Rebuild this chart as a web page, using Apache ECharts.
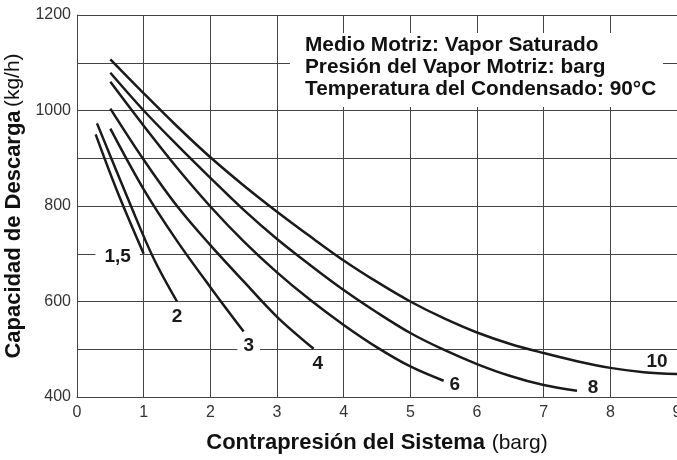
<!DOCTYPE html>
<html>
<head>
<meta charset="utf-8">
<script src="https://cdn.jsdelivr.net/npm/echarts@6/dist/echarts.min.js"></script>
<style>
html, body { margin: 0; padding: 0; background: #fff; }
#chart { width: 677px; height: 460px; }
</style>
</head>
<body>
<div id="chart"></div>
<script>
// curves: [contrapresion barg, capacidad kg/h]
var curve15 = [[0.28, 950], [0.6, 832], [1.0, 700]];
var curve2 = [[0.3, 973], [0.8, 803], [1.15, 690], [1.5, 600]];
var curve3 = [[0.5, 962], [1.0, 835], [1.5, 727], [2.0, 630], [2.5, 537]];
var curve4 = [[0.5, 1004], [1.0, 897], [1.5, 800], [2.0, 718], [2.5, 642], [3.0, 568], [3.55, 501]];
var curve6 = [[0.5, 1060], [1.0, 968], [1.5, 880], [2.0, 799], [2.5, 726], [3.0, 661], [3.5, 603], [4.0, 551], [4.5, 504], [5.0, 464], [5.5, 434]];
var curve8 = [[0.5, 1079], [1.0, 1000], [1.5, 928], [2.0, 859], [2.5, 792], [3.0, 731], [3.5, 676], [4.0, 624], [4.5, 577], [5.0, 534], [5.5, 499], [6.0, 469], [6.5, 444], [7.0, 425], [7.5, 413]];
var curve10 = [[0.5, 1107], [1.0, 1036], [1.5, 967], [2.0, 902], [2.5, 843], [3.0, 788], [3.5, 736], [4.0, 686], [4.5, 641], [5.0, 600], [5.5, 565], [6.0, 535], [6.5, 511], [7.0, 492], [7.5, 475], [8.0, 461], [8.5, 452], [9.0, 448]];

var curveNames = ['1,5', '2', '3', '4', '6', '8', '10'];
var curveData = [curve15, curve2, curve3, curve4, curve6, curve8, curve10];
// where each curve's label sits relative to its last point (px)
var labelOffsets = [[-26, 3], [0, 15], [5, 14], [4, 15], [11, 4], [16, -3], [-20, -12]];
var labelPads = [[0, 9], [0, 0], [0, 6], [0, 0], [0, 0], [0, 0], [0, 0]];

var boxText = ['Medio Motriz: Vapor Saturado', 'Presión del Vapor Motriz: barg', 'Temperatura del Condensado: 90°C'];

var FONT = '"Liberation Sans", Arial, sans-serif';

var myChart = echarts.init(document.getElementById('chart'));

var series = curveData.map(function (pts, i) {
  var last = pts[pts.length - 1];
  return {
    name: curveNames[i],
    type: 'line',
    data: pts,
    smooth: 0.35,
    showSymbol: false,
    lineStyle: { color: '#1a1a1a', width: 2.5 },
    z: 5,
    markPoint: {
      symbol: 'circle',
      symbolSize: 0,
      silent: true,
      label: {
        show: true,
        formatter: curveNames[i],
        offset: labelOffsets[i],
        fontFamily: FONT,
        fontWeight: 'bold',
        fontSize: 19,
        color: '#1a1a1a',
        backgroundColor: labelPads[i][1] ? '#fff' : 'transparent',
        padding: labelPads[i]
      },
      data: [{ coord: last }]
    }
  };
});

var option = {
  animation: false,
  backgroundColor: '#fff',
  grid: { left: 77, right: 0, top: 15, bottom: 63, outerBoundsMode: 'none', containLabel: false },
  xAxis: {
    type: 'value',
    min: 0,
    max: 9,
    interval: 1,
    name: '{b|Contrapresión del Sistema}  {n|(barg)}',
    nameLocation: 'middle',
    nameGap: 35,
    nameTextStyle: {
      rich: {
        b: { fontFamily: FONT, fontWeight: 'bold', fontSize: 22, color: '#111' },
        n: { fontFamily: FONT, fontSize: 21, color: '#111' }
      }
    },
    axisLine: { lineStyle: { color: '#444', width: 1 } },
    axisTick: { show: false },
    axisLabel: { fontFamily: FONT, fontSize: 16, color: '#333', margin: 8 },
    splitLine: { show: true, lineStyle: { color: '#444', width: 1 } }
  },
  yAxis: {
    type: 'value',
    min: 400,
    max: 1200,
    interval: 100,
    name: '{b|Capacidad de Descarga} {n|(kg/h)}',
    nameLocation: 'middle',
    nameGap: 45,
    nameTextStyle: {
      rich: {
        b: { fontFamily: FONT, fontWeight: 'bold', fontSize: 22, color: '#111' },
        n: { fontFamily: FONT, fontSize: 21, color: '#111' }
      }
    },
    axisLine: { show: true, lineStyle: { color: '#444', width: 1 } },
    axisTick: { show: false },
    axisLabel: {
      fontFamily: FONT, fontSize: 16, color: '#333', margin: 6,
      formatter: function (v) { return v % 200 === 0 ? v : ''; }
    },
    splitLine: { show: true, lineStyle: { color: '#444', width: 1 } }
  },
  graphic: [
    { type: 'rect', left: 290, top: 33, z: 100, shape: { width: 373, height: 74 }, style: { fill: '#fff' } },
    {
      type: 'text', left: 305, top: 35, z: 101, scaleX: 1.04,
      style: { text: boxText.join('\n'), font: 'bold 20px ' + FONT, lineHeight: 21.7, fill: '#111' }
    }
  ],
  series: series
};

myChart.setOption(option);
</script>
</body>
</html>
